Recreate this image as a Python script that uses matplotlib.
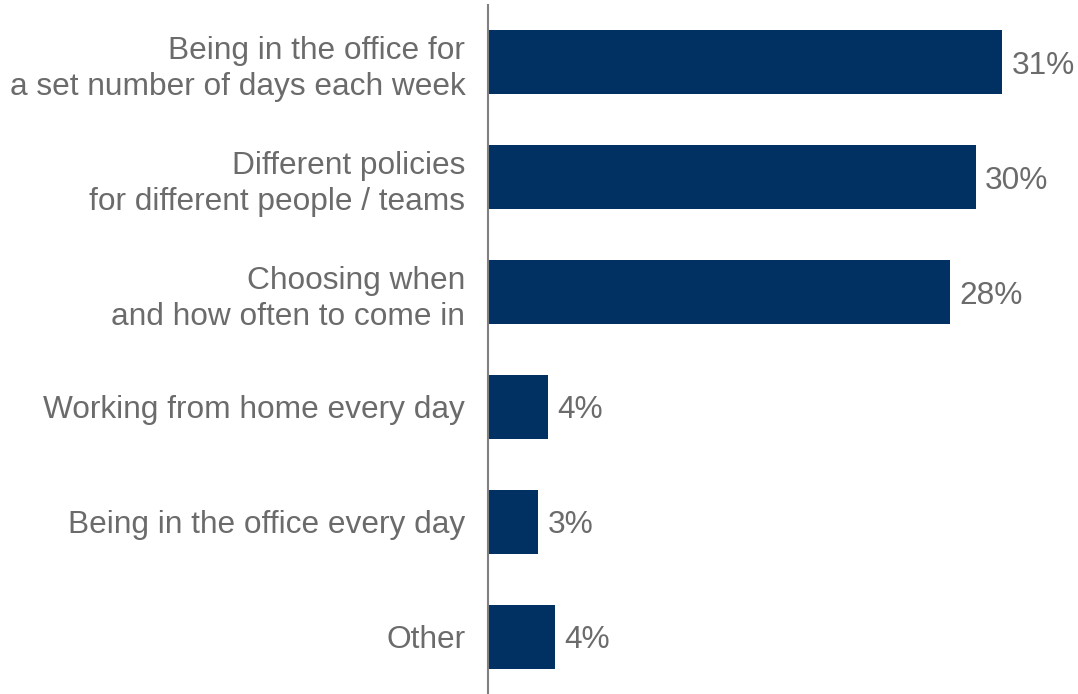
import matplotlib.pyplot as plt

# Preferred arrangement for the office, share of respondents (%)
categories = [
    "Being in the office for\na set number of days each week",
    "Different policies\nfor different people / teams",
    "Choosing when\nand how often to come in",
    "Working from home every day",
    "Being in the office every day",
    "Other",
]
shares = [31.4, 29.8, 28.2, 3.7, 3.1, 4.1]

bar_color = "#003162"
text_color = "#6b6b6b"
font_size = 22.8

plt.rcParams["font.family"] = ["Liberation Sans", "DejaVu Sans"]

fig = plt.figure(figsize=(10.78, 6.94), dpi=100)
ax = fig.add_axes([487.5 / 1078, 0, 574 / 1078, 1 - 5 / 694])

positions = list(range(len(categories)))
ax.barh(positions, shares, height=0.556, color=bar_color)

# percentage labels just past the end of each bar
for i, v in enumerate(shares):
    ax.annotate(f"{round(v)}%", xy=(v, i), xytext=(6.5, 0), textcoords="offset points",
                va="center_baseline", ha="left", fontsize=font_size, color=text_color)

ax.set_yticks(positions)
ax.set_yticklabels(categories, fontsize=font_size, color=text_color, linespacing=1.27)
ax.set_ylim(len(categories) - 0.5, -0.5)
ax.set_xlim(0, 35)
ax.set_xticks([])
ax.tick_params(axis="y", length=0, pad=16)

for side in ["top", "right", "bottom"]:
    ax.spines[side].set_visible(False)
ax.spines["left"].set_color("#808080")
ax.spines["left"].set_linewidth(1.5)

fig.savefig("out.png", dpi=100)
